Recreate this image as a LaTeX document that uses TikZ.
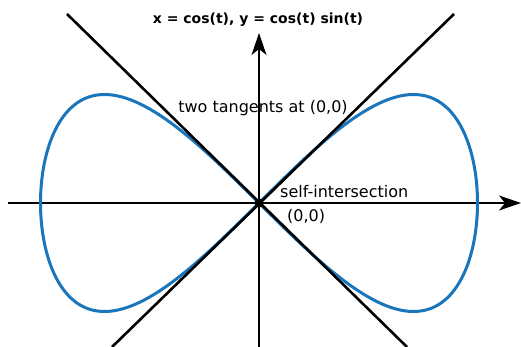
\documentclass[tikz,border=0pt]{standalone}
\usepackage{fontspec}
\setmainfont{DejaVu Sans}
\usetikzlibrary{arrows.meta}
\definecolor{curveblue}{RGB}{25,117,188}
\tikzset{
  axisline/.style={line width=1.5pt, -{Stealth[length=22pt,width=15pt,inset=6pt]}},
  tangentline/.style={line width=2.6pt, black},
  curveline/.style={line width=3pt, curveblue},
  lab/.style={font=\fontsize{16}{19}\selectfont, inner sep=0pt}
}
\begin{document}
\begin{tikzpicture}[x=1pt,y=-1pt]
\useasboundingbox (0,0) rectangle (521,347);
% Axes
\coordinate (xl) at (8,203);
\coordinate (xr) at (521,203);
\coordinate (yb) at (259,347);
\coordinate (yt) at (259,33);
\draw[axisline] (xl) -- (xr);
\draw[axisline] (yb) -- (yt);
% Curve
\draw[curveline, domain=0:360, samples=200, smooth, variable=\t]
  plot ({259+218.5*cos(\t)}, {203-217*cos(\t)*sin(\t)});
% Tangents
\coordinate (ul) at (67,14);
\coordinate (lr) at (407,347);
\coordinate (ur) at (454,14);
\coordinate (ll) at (112,347);
\draw[tangentline] (ul) -- (lr);
\draw[tangentline] (ur) -- (ll);
% Origin
\node[circle, fill=black, inner sep=0pt, minimum size=9pt] (orig) at (259,203) {};
% Labels
\node[font=\bfseries\fontsize{14}{17}\selectfont, inner sep=0pt] (title) at (258,20) {x = cos(t), y = cos(t) sin(t)};
\node[lab] (tang) at (263,108) {two tangents at (0,0)};
\node[lab, anchor=west] (selfint) at (280,192) {self-intersection};
\node[lab, anchor=west] (oo) at (287,216) {(0,0)};
\end{tikzpicture}
\end{document}
